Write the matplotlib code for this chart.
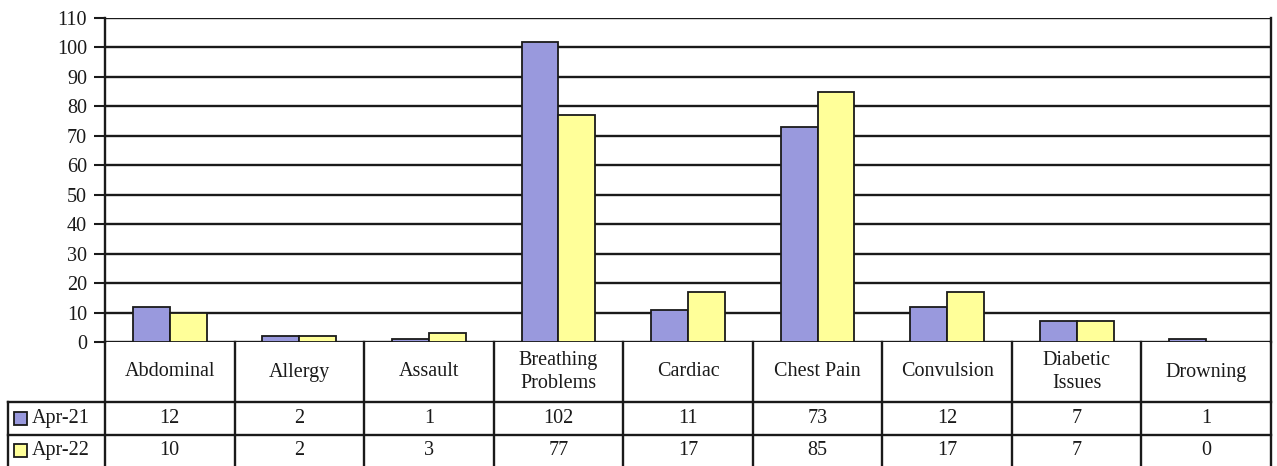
import matplotlib.pyplot as plt
import matplotlib.transforms as mtransforms
from matplotlib.patches import Rectangle

plt.rcParams['font.family'] = ['Liberation Serif', 'DejaVu Serif']

# Data
categories = ['Abdominal', 'Allergy', 'Assault', 'Breathing\nProblems', 'Cardiac',
              'Chest Pain', 'Convulsion', 'Diabetic\nIssues', 'Drowning']
series_names = ['Apr-21', 'Apr-22']
apr21 = [12, 2, 1, 102, 11, 73, 12, 7, 1]
apr22 = [10, 2, 3, 77, 17, 85, 17, 7, 0]
colors = ['#9999DD', '#FFFF99']

W, H = 1277, 466
fs = 14.5
fig = plt.figure(figsize=(W / 100, H / 100), dpi=100)

# plot area in pixels
px_left, px_right, px_top, px_bottom = 105, 1271, 18, 342
ax = fig.add_axes([px_left / W, 1 - px_bottom / H,
                   (px_right - px_left) / W, (px_bottom - px_top) / H])

n = len(categories)
x = list(range(n))
bw = 0.285
ax.bar([i - bw / 2 for i in x], apr21, bw, color=colors[0], edgecolor='#1a1a1a', linewidth=1.3, zorder=3)
ax.bar([i + bw / 2 for i in x], apr22, bw, color=colors[1], edgecolor='#1a1a1a', linewidth=1.3, zorder=3)

ax.set_xlim(-0.5, n - 0.5)
ax.set_ylim(0, 110)
ax.set_yticks(range(0, 111, 10))
ax.set_xticks([])
ax.tick_params(axis='y', direction='out', length=8, width=1.5, pad=5, labelsize=fs, colors='#1a1a1a')
ax.grid(axis='y', color='#1a1a1a', linewidth=1.7, zorder=0)
for s in ['top', 'bottom']:
    ax.spines[s].set_visible(False)
for s in ['left', 'right']:
    ax.spines[s].set_linewidth(1.7)
    ax.spines[s].set_color('#1a1a1a')

# data table below the plot
ph = px_bottom - px_top
pw = px_right - px_left
def ay(py):
    return (px_bottom - py) / ph
def ax_x(px):
    return (px - px_left) / pw

y_head = ay(402)
y_row = ay(435)
y_bot = ay(470)
x_leg = ax_x(8)
lc = '#1a1a1a'
lw = 1.7

blend = mtransforms.blended_transform_factory(ax.transData, ax.transAxes)
for i in range(n + 1):
    ax.plot([i - 0.5, i - 0.5], [0, y_bot], transform=blend, color=lc, lw=lw, clip_on=False)
ax.plot([x_leg, 1], [y_head, y_head], transform=ax.transAxes, color=lc, lw=lw, clip_on=False)
ax.plot([x_leg, 1], [y_row, y_row], transform=ax.transAxes, color=lc, lw=lw, clip_on=False)
ax.plot([x_leg, x_leg], [y_head, y_bot], transform=ax.transAxes, color=lc, lw=lw, clip_on=False)

y_mid2 = (y_row + ay(466)) / 2
for i, cat in enumerate(categories):
    ax.text(i, (0 + y_head) / 2, cat, transform=blend, ha='center', va='center',
            fontsize=fs, color='#1a1a1a', linespacing=1.35)
    ax.text(i, (y_head + y_row) / 2, str(apr21[i]), transform=blend, ha='center', va='center',
            fontsize=fs, color='#1a1a1a')
    ax.text(i, y_mid2, str(apr22[i]), transform=blend, ha='center', va='center',
            fontsize=fs, color='#1a1a1a')

rows_mid = [(y_head + y_row) / 2, y_mid2]
sq_w = ax_x(27) - ax_x(14)
sq_h = 13 / ph
for name, col, ym in zip(series_names, colors, rows_mid):
    ax.add_patch(Rectangle((ax_x(14), ym - sq_h / 2), sq_w, sq_h, transform=ax.transAxes,
                           facecolor=col, edgecolor=lc, lw=1.3, clip_on=False))
    ax.text(ax_x(32), ym, name, transform=ax.transAxes, ha='left', va='center',
            fontsize=fs, color='#1a1a1a')

fig.savefig('out.png', dpi=100)
